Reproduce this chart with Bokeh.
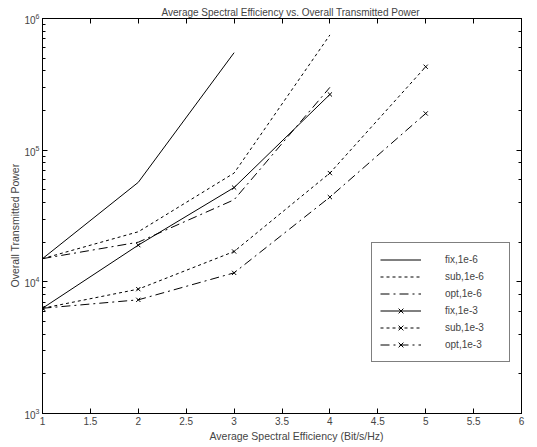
from bokeh.plotting import figure
from bokeh.models import (LinearAxis, LogAxis, Legend, LegendItem, FixedTicker,
                          LogTicker, NumeralTickFormatter, CustomJSTickFormatter, Title)
from bokeh.embed import file_html
from bokeh.resources import INLINE

# ---- data ----
x_fix6 = [1, 2, 3]
fix_1e6 = [1.5e4, 5.7e4, 5.5e5]
x_4 = [1, 2, 3, 4]
sub_1e6 = [1.5e4, 2.4e4, 6.7e4, 7.5e5]
opt_1e6 = [1.5e4, 2.0e4, 4.2e4, 3.0e5]
fix_1e3 = [6.3e3, 1.9e4, 5.2e4, 2.65e5]
x_5 = [1, 2, 3, 4, 5]
sub_1e3 = [6.3e3, 8.8e3, 1.7e4, 6.7e4, 4.3e5]
opt_1e3 = [6.3e3, 7.3e3, 1.17e4, 4.4e4, 1.9e5]
x_ticks = [1, 1.5, 2, 2.5, 3, 3.5, 4, 4.5, 5, 5.5, 6]

FONT = "Liberation Sans"

p = figure(width=537, height=447, y_axis_type="log", x_range=(1, 6), y_range=(1e3, 1e6),
           output_backend="svg", toolbar_location=None,
           min_border_left=42, min_border_right=16, min_border_top=18, min_border_bottom=34)
p.title.visible = False
p.grid.visible = False
p.outline_line_color = "black"
p.outline_line_width = 1
p.background_fill_color = "white"
p.border_fill_color = "white"

p.xaxis.ticker = FixedTicker(ticks=x_ticks)
p.xaxis.formatter = NumeralTickFormatter(format="0.[0]")

for ax in p.xaxis + p.yaxis:
    ax.major_label_text_font = FONT
    ax.major_label_text_font_size = "10px"
    ax.major_tick_in = 5
    ax.major_tick_out = 0
    ax.minor_tick_in = 3
    ax.minor_tick_out = 0
    ax.axis_line_color = "black"
    ax.major_tick_line_color = "black"
    ax.minor_tick_line_color = "black"
    ax.major_label_standoff = 3
p.xaxis.minor_tick_line_color = None

top = LinearAxis(ticker=FixedTicker(ticks=x_ticks), formatter=CustomJSTickFormatter(code="return '';"),
                 major_label_standoff=0, major_tick_in=5, major_tick_out=0,
                 minor_tick_line_color=None, axis_line_color="black")
right = LogAxis(ticker=LogTicker(), formatter=CustomJSTickFormatter(code="return '';"),
                major_label_standoff=0, major_tick_in=5, major_tick_out=0,
                minor_tick_in=3, minor_tick_out=0, axis_line_color="black")
p.add_layout(top, "above")
p.add_layout(right, "right")

title = Title(text="Average Spectral Efficiency vs. Overall Transmitted Power",
              text_font=FONT, text_font_size="10px", text_font_style="normal",
              align="left", offset=119, standoff=2)
p.add_layout(title, "above")
xlab = Title(text="Average Spectral Efficiency (Bit/s/Hz)",
             text_font=FONT, text_font_size="10.5px", text_font_style="normal",
             align="left", offset=167, standoff=0)
p.add_layout(xlab, "below")
ylab = Title(text="Overall Transmitted Power",
             text_font=FONT, text_font_size="10.5px", text_font_style="normal",
             align="left", offset=126, standoff=2)
p.add_layout(ylab, "left")

LW = 1
SUB = "3 3"
OPT = "9 4 2 4"

r1 = p.line(x_fix6, fix_1e6, line_color="black", line_width=LW)
r2 = p.line(x_4, sub_1e6, line_color="black", line_width=LW, line_dash=SUB)
r3 = p.line(x_4, opt_1e6, line_color="black", line_width=LW, line_dash=OPT)
r4 = p.line(x_4, fix_1e3, line_color="black", line_width=LW)
m4 = p.scatter(x_4, fix_1e3, marker="x", size=6, line_color="black", line_width=1)
r5 = p.line(x_5, sub_1e3, line_color="black", line_width=LW, line_dash=SUB)
m5 = p.scatter(x_5, sub_1e3, marker="x", size=6, line_color="black", line_width=1)
r6 = p.line(x_5, opt_1e3, line_color="black", line_width=LW, line_dash=OPT)
m6 = p.scatter(x_5, opt_1e3, marker="x", size=6, line_color="black", line_width=1)

legend = Legend(items=[
    LegendItem(label="fix,1e-6", renderers=[r1]),
    LegendItem(label="sub,1e-6", renderers=[r2]),
    LegendItem(label="opt,1e-6", renderers=[r3]),
    LegendItem(label="fix,1e-3", renderers=[r4, m4]),
    LegendItem(label="sub,1e-3", renderers=[r5, m5]),
    LegendItem(label="opt,1e-3", renderers=[r6, m6]),
], location=(329, 51), margin=0, padding=8, spacing=0,
   glyph_width=41, glyph_height=17, label_height=17, label_width=56, label_standoff=24,
   label_text_font=FONT, label_text_font_size="10px",
   border_line_color="black", border_line_width=1, background_fill_color="white",
   background_fill_alpha=1)
p.add_layout(legend, "center")

open("out.html", "w").write(file_html(p, INLINE))
